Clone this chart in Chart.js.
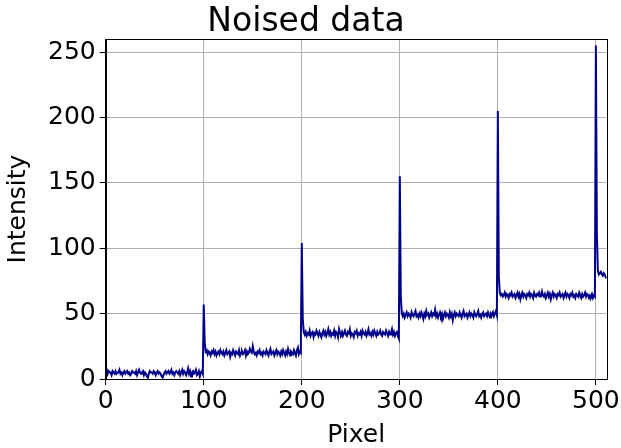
<!DOCTYPE html>
<html>
<head>
<meta charset="utf-8">
<script src="https://cdn.jsdelivr.net/npm/chart.js@4"></script>
<style>
  body { margin: 0; background: #fff; }
  canvas { display: block; }
</style>
</head>
<body>
<canvas id="myChart" width="621" height="448"></canvas>
<script>
// intensity, one value per pixel, split by plateau
const plateau0 = [5,7,4,6,5,5,3,6,5,4, 6,4,5,5,7,4,5,3,5,6, 4,5,6,4,5,3,4,6,5,5, 4,6,3,5,7,5,4,5,6,3,
  5,4,2,1,4,6,5,5,4,6, 5,3,5,6,4,5,4,2,1,3, 5,6,4,5,6,4,5,7,4,5, 3,5,6,5,4,6,3,5,7,4,
  6,5,3,5,8,4,6,2,5,6, 4,5,7,3,4,6,2,5,6,4];
const plateau1 = [57,28,21,22,19,21,20,18,21,20, 22,19,21,18,20,21,19,22,20,19, 21,18,20,22,19,20,21,17,20,19,
  22,20,18,21,20,19,22,18,20,21, 19,20,22,18,21,19,20,23,21,20, 25,21,19,20,18,21,20,22,19,20,
  18,21,20,19,22,20,18,21,23,19, 20,21,18,20,22,19,21,20,18,21, 19,22,20,18,21,19,23,20,18,21,
  20,19,22,20,18,22,24,19,21,20];
const plateau2 = [104,46,36,34,36,33,35,34,37,33, 35,36,32,35,34,37,35,33,36,34, 32,35,37,34,36,33,35,38,34,36,
  33,35,34,37,33,36,35,32,38,35, 34,36,33,35,37,34,33,36,35,38, 33,35,34,32,36,35,37,33,35,34,
  36,33,37,35,34,36,33,35,38,34, 35,33,36,34,37,35,33,36,34,35, 37,34,33,36,35,34,37,35,33,36,
  34,35,38,34,36,33,35,36,33,31];
const plateau3 = [155,63,50,48,50,47,49,51,48,50, 49,47,51,49,48,50,52,48,49,47, 50,48,51,49,46,50,48,52,49,50,
  47,49,51,48,50,49,53,48,50,47, 49,51,48,50,46,49,51,48,50,49, 47,51,48,50,45,49,51,48,50,49,
  48,51,49,47,50,52,48,49,50,47, 49,51,48,50,49,47,51,49,48,50, 52,48,49,47,50,51,48,49,50,48,
  51,49,47,50,49,51,48,50,52,49];
const plateau4 = [205,78,66,64,65,63,64,66,63,65, 64,62,65,64,66,63,64,65,62,64, 66,63,65,61,64,66,63,65,64,62,
  65,64,66,63,65,64,62,66,64,63, 65,64,66,63,64,67,64,63,65,62, 64,66,63,65,61,64,66,63,65,64,
  62,65,64,66,63,64,65,62,64,66, 63,65,64,62,65,64,66,63,64,62, 65,64,63,66,64,62,65,63,64,66,
  63,65,64,62,64,63,65,62,64,63];
const plateau5 = [255,112,83,80,81,82,80,79,81,80,78,77];

const xTicks = [0, 100, 200, 300, 400, 500];
const yTicks = [0, 50, 100, 150, 200, 250];

const intensity = [].concat(plateau0, plateau1, plateau2, plateau3, plateau4, plateau5);
const points = intensity.map((v, i) => ({ x: i, y: v }));

// matplotlib draws all four spines
const frame = {
  id: 'frame',
  afterDraw(chart) {
    const a = chart.chartArea;
    const ctx = chart.ctx;
    ctx.save();
    ctx.strokeStyle = '#000';
    ctx.lineWidth = 1;
    ctx.strokeRect(Math.round(a.left) + 0.5, Math.round(a.top) + 0.5,
      Math.round(a.right - a.left), Math.round(a.bottom - a.top));
    ctx.restore();
  }
};

const font = { family: 'DejaVu Sans', size: 25 };

new Chart(document.getElementById('myChart'), {
  type: 'line',
  data: {
    datasets: [{
      data: points,
      borderColor: '#00008b',
      borderWidth: 2,
      pointRadius: 0,
      tension: 0
    }]
  },
  options: {
    responsive: false,
    animation: false,
    layout: { padding: { left: 3, right: 12, top: 0, bottom: 0 } },
    plugins: {
      legend: { display: false },
      tooltip: { enabled: false },
      title: {
        display: true,
        text: 'Noised data',
        color: '#000',
        font: { family: 'DejaVu Sans', size: 33, weight: 'normal', lineHeight: 1.0 },
        padding: { top: 6, bottom: 0 }
      }
    },
    scales: {
      x: {
        type: 'linear',
        min: 0,
        max: 511,
        afterBuildTicks: s => { s.ticks = xTicks.map(v => ({ value: v })); },
        ticks: { color: '#000', font: font, padding: 1, maxRotation: 0 },
        grid: { color: '#b0b0b0', lineWidth: 1, tickColor: '#000', tickLength: 6 },
        border: { color: '#000' },
        title: { display: true, text: 'Pixel', color: '#000', font: { family: 'DejaVu Sans', size: 25, lineHeight: 1.0 }, padding: { top: 6, bottom: 0 } }
      },
      y: {
        min: 0,
        max: 260,
        afterBuildTicks: s => { s.ticks = yTicks.map(v => ({ value: v })); },
        ticks: { color: '#000', font: font, padding: 4 },
        grid: { color: '#b0b0b0', lineWidth: 1, tickColor: '#000', tickLength: 6 },
        border: { color: '#000' },
        title: { display: true, text: 'Intensity', color: '#000', font: font, padding: { top: 0, bottom: 11 } }
      }
    }
  },
  plugins: [frame]
});
</script>
</body>
</html>
